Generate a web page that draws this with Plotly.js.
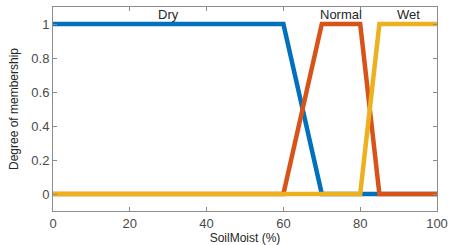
<!DOCTYPE html>
<html>
<head>
<meta charset="utf-8">
<script src="https://cdn.plot.ly/plotly-3.0.1.min.js"></script>
<style>html,body{margin:0;padding:0;background:#fff;}#chart{width:449px;height:245px;}</style>
</head>
<body>
<div id="chart"></div>
<script>
// Membership function breakpoints (SoilMoist %) and degrees
const dryX = [0, 60, 70, 100];
const dryY = [1, 1, 0, 0];
const normalX = [0, 60, 70, 80, 85, 100];
const normalY = [0, 0, 1, 1, 0, 0];
const wetX = [0, 80, 85, 100];
const wetY = [0, 0, 1, 1];
const mfNames = ["Dry", "Normal", "Wet"];
const mfLabelX = [30, 75, 92.5];
const mfLabelY = [1.005, 1.005, 1.005];
const xTicks = [0, 20, 40, 60, 80, 100];
const yTicks = [0, 0.2, 0.4, 0.6, 0.8, 1];
const yTickText = ["0", "0.2", "0.4", "0.6", "0.8", "1"];

const colors = ["#0072BD", "#D95319", "#EDB120"];
const lw = 4.5;

const traces = [
  {x: dryX, y: dryY, mode: "lines", line: {color: colors[0], width: lw}, hoverinfo: "skip"},
  {x: normalX, y: normalY, mode: "lines", line: {color: colors[1], width: lw}, hoverinfo: "skip"},
  {x: wetX, y: wetY, mode: "lines", line: {color: colors[2], width: lw}, hoverinfo: "skip"}
];

const annotations = mfNames.map((n, i) => ({
  x: mfLabelX[i], y: mfLabelY[i], xref: "x", yref: "y", text: n, showarrow: false,
  yanchor: "bottom", borderpad: 0,
  font: {family: "Liberation Sans, Arial, sans-serif", size: 13, color: "#262626"}
}));

const axisCommon = {
  showgrid: false, zeroline: false, showline: true, linecolor: "#8c8c8c", linewidth: 1,
  mirror: "ticks", ticks: "inside", ticklen: 4, tickcolor: "#8c8c8c",
  tickfont: {family: "Liberation Sans, Arial, sans-serif", size: 13, color: "#4a4a4a"}
};

const layout = {
  width: 449, height: 245,
  margin: {l: 53, r: 12, t: 7, b: 34},
  paper_bgcolor: "#fff", plot_bgcolor: "#fff",
  showlegend: false,
  xaxis: Object.assign({}, axisCommon, {
    range: [0, 100], tickvals: xTicks, ticktext: xTicks.map(String),
    title: {text: "SoilMoist (%)", standoff: 0, font: {family: "Liberation Sans, Arial, sans-serif", size: 12, color: "#262626"}}
  }),
  yaxis: Object.assign({}, axisCommon, {
    range: [-0.1, 1.1], tickvals: yTicks, ticktext: yTickText,
    title: {text: "Degree of membership", standoff: 10, font: {family: "Liberation Sans Narrow, Liberation Sans, Arial, sans-serif", size: 12, color: "#262626"}}
  }),
  annotations: annotations
};

Plotly.newPlot("chart", traces, layout, {staticPlot: true, displayModeBar: false});
</script>
</body>
</html>
